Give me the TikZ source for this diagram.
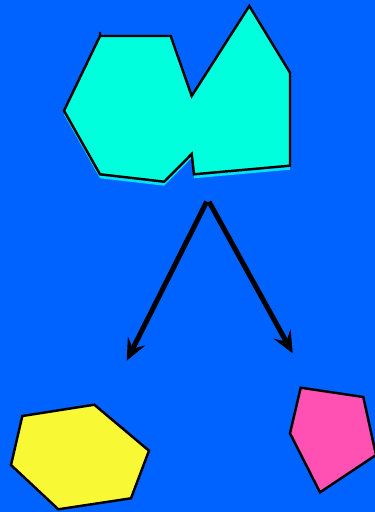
\documentclass[tikz,border=0pt]{standalone}
\usetikzlibrary{arrows.meta}

\definecolor{bgblue}{RGB}{0,98,255}
\definecolor{cyanfill}{RGB}{0,255,221}
\definecolor{cyanshade}{RGB}{0,228,255}
\definecolor{yellowfill}{RGB}{249,248,52}
\definecolor{pinkfill}{RGB}{255,80,180}

\begin{document}
\begin{tikzpicture}[x=0.03cm, y=-0.03cm]
\tikzset{
  outline/.style={draw=black, line width=2.1pt, line join=miter},
  split/.style={line width=4.3pt, -{Stealth[length=6.6mm, width=5.8mm, inset=2.6mm]}}
}

\fill[bgblue] (0,0) rectangle (375,512);
\useasboundingbox (0,0) rectangle (375,512);

% the whole shape on top
\coordinate (A) at (100,36);
\coordinate (B) at (170.7,36);
\coordinate (C) at (191.7,96);
\coordinate (D) at (249.3,6);
\coordinate (E) at (290,72.7);
\coordinate (F) at (290,165.7);
\coordinate (G) at (194,174.3);
\coordinate (H) at (191.7,154);
\coordinate (I) at (164.3,181.7);
\coordinate (J) at (100,174.3);
\coordinate (K) at (64,110.7);

\def\dy{-0.12cm}
\fill[cyanshade] ([yshift=\dy]A) -- ([yshift=\dy]B) -- ([yshift=\dy]C) -- ([yshift=\dy]D) -- ([yshift=\dy]E) -- ([yshift=\dy]F) -- ([yshift=\dy]G) -- ([yshift=\dy]H) -- ([yshift=\dy]I) -- ([yshift=\dy]J) -- ([yshift=\dy]K) -- cycle;
\fill[cyanfill] (A) -- (B) -- (C) -- (D) -- (E) -- (F) -- (G) -- (H) -- (I) -- (J) -- (K) -- cycle;
\draw[outline] (100,32) -- (A) -- (B) -- (C) -- (D) -- (E) -- (F) -- (G) -- (H) -- (I) -- (J) -- (K) -- (A);

% the two arrows
\coordinate (S1) at (206.7,201.7);
\coordinate (S2) at (209,201.7);
\coordinate (T1) at (126.7,360.7);
\coordinate (T2) at (292.7,353.3);

\draw[split] (S1) -- (T1);
\draw[split] (S2) -- (T2);

% the two pieces
\coordinate (Y1) at (22.3,416);
\coordinate (Y2) at (94.3,404.7);
\coordinate (Y3) at (149,450.7);
\coordinate (Y4) at (131,498.3);
\coordinate (Y5) at (58.3,509.3);
\coordinate (Y6) at (11,465);

\draw[outline, fill=yellowfill] (Y1) -- (Y2) -- (Y3) -- (Y4) -- (Y5) -- (Y6) -- cycle;

\coordinate (P1) at (300.7,387.7);
\coordinate (P2) at (363.3,397);
\coordinate (P3) at (376,455);
\coordinate (P4) at (320,492.3);
\coordinate (P5) at (290,433.3);

\draw[outline, fill=pinkfill] (P1) -- (P2) -- (P3) -- (P4) -- (P5) -- cycle;
\end{tikzpicture}
\end{document}
